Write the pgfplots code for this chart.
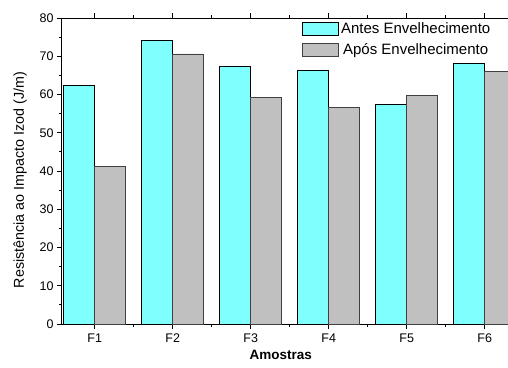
\documentclass[border=0pt]{standalone}
\usepackage{pgfplots}
\pgfplotsset{compat=1.18}
\usepackage{fontspec}
\setmainfont{Liberation Sans}
\definecolor{cyanbar}{HTML}{80FFFF}
\definecolor{graybar}{HTML}{C0C0C0}
\definecolor{grayedge}{HTML}{404040}
\begin{document}
\begin{tikzpicture}
\begin{axis}[
  at={(62pt,43pt)}, anchor=south west,
  scale only axis, width=455.5pt, height=306pt,
  xmin=0.58, xmax=6.42, ymin=0, ymax=80,
  ybar=0pt, bar width=31pt,
  xtick={1,2,3,4,5,6}, xticklabels={F1,F2,F3,F4,F5,F6},
  minor xtick={1.5,2.5,3.5,4.5,5.5},
  ytick={0,10,...,80}, minor ytick={5,15,...,75},
  tick align=outside, tick pos=both,
  major tick length=5pt, minor tick length=3pt,
  every tick/.style={black, line width=0.8pt},
  axis line style={line width=1pt},
  /pgf/number format/assume math mode=true,
  tick label style={font=\fontsize{12.5}{14}\selectfont},
  xticklabel style={yshift=-1pt},
  ylabel={Resistência ao Impacto Izod (J/m)},
  ylabel style={at={(axis description cs:-0.092,0.47)}, anchor=center, font=\fontsize{14.3}{16}\selectfont},
  xlabel={Amostras},
  xlabel style={at={(axis description cs:0.48,-0.101)}, anchor=center, font=\fontsize{13.5}{16}\selectfont\bfseries},
  legend style={at={(axis description cs:0.527,0.993)}, anchor=north west, draw=none, fill=none,
    font=\fontsize{15}{17}\selectfont, inner sep=0pt, row sep=5pt,
    /tikz/every even column/.append style={column sep=5pt}},
  legend image code/.code={\draw[#1, line width=0.8pt] (0pt,-6.5pt) rectangle (36pt,6.5pt);},
]
\addplot[fill=cyanbar, draw=black, line width=0.8pt] coordinates {(1,62.4) (2,74.2) (3,67.4) (4,66.2) (5,57.5) (6,68.2)};
\addplot[fill=graybar, draw=grayedge, line width=0.8pt] coordinates {(1,41.3) (2,70.6) (3,59.3) (4,56.5) (5,59.7) (6,66.0)};
\legend{Antes Envelhecimento, Após Envelhecimento}
\end{axis}
\pgfresetboundingbox
\useasboundingbox (0,0) rectangle (508pt,367pt);
\end{tikzpicture}
\end{document}
